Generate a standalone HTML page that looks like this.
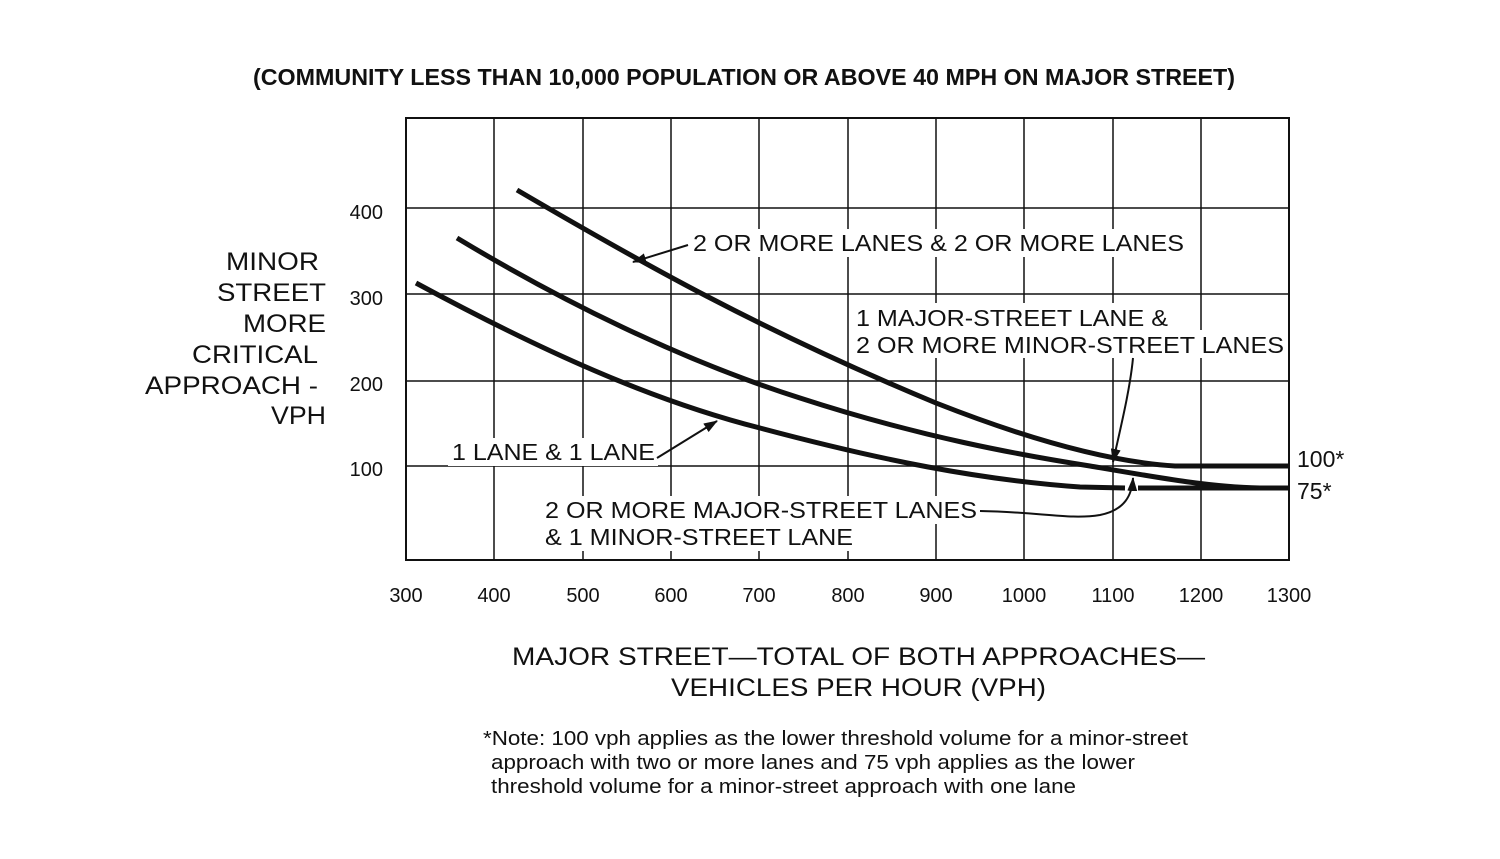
<!DOCTYPE html>
<html><head><style>
body{margin:0;background:#fff;}
svg text{font-family:"Liberation Sans",Arial,sans-serif;fill:#111;}
</style></head><body>
<svg width="1500" height="854" viewBox="0 0 1500 854" xmlns="http://www.w3.org/2000/svg">
<defs>
<marker id="ah2" markerWidth="14" markerHeight="10" refX="13" refY="5" orient="auto" markerUnits="userSpaceOnUse">
<path d="M0,0 L14,5 L0,10 Z" fill="#111"/></marker>
</defs>
<text x="253" y="85" font-size="23" font-weight="bold" textLength="982" lengthAdjust="spacingAndGlyphs">(COMMUNITY LESS THAN 10,000 POPULATION OR ABOVE 40 MPH ON MAJOR STREET)</text>
<g stroke="#111" stroke-width="1.5" fill="none">
<rect x="406" y="118" width="883" height="442" stroke-width="2"/>
<line x1="494" y1="118" x2="494" y2="560"/><line x1="583" y1="118" x2="583" y2="560"/>
<line x1="671" y1="118" x2="671" y2="560"/><line x1="759" y1="118" x2="759" y2="560"/>
<line x1="848" y1="118" x2="848" y2="560"/><line x1="936" y1="118" x2="936" y2="560"/>
<line x1="1024" y1="118" x2="1024" y2="560"/><line x1="1113" y1="118" x2="1113" y2="560"/>
<line x1="1201" y1="118" x2="1201" y2="560"/>
<line x1="406" y1="208" x2="1289" y2="208"/><line x1="406" y1="294" x2="1289" y2="294"/>
<line x1="406" y1="381" x2="1289" y2="381"/><line x1="406" y1="466" x2="1289" y2="466"/>
</g>
<g stroke="#111" stroke-width="5" fill="none" stroke-linecap="butt">
<path d="M517,190 C640,262 760,330 936,403 C1030,440 1110,462 1175,466 L1289,466"/>
<path d="M457,238 C560,300 680,360 800,398 C920,437 1020,455 1090,466 C1160,478 1210,487 1260,488 L1289,488"/>
<path d="M416,283 C540,350 650,400 760,428 C880,460 980,480 1080,487 L1125,488"/>
<path d="M1138,488 L1289,488"/>
</g>
<g fill="#fff">
<rect x="689" y="229" width="499" height="28"/>
<rect x="852" y="303" width="320" height="28"/>
<rect x="852" y="330" width="436" height="28"/>
<rect x="448" y="438" width="210" height="28"/>
<rect x="541" y="496" width="440" height="28"/>
<rect x="541" y="523" width="316" height="28"/>
</g>
<g stroke="#111" stroke-width="2" fill="none">
<path d="M688,245 L633,262" marker-end="url(#ah2)"/>
<path d="M1133,358 C1130,390 1120,430 1113,462" marker-end="url(#ah2)"/>
<path d="M657,458 L717,421" marker-end="url(#ah2)"/>
<path d="M980,511 C1040,512 1070,520 1100,515 C1125,510 1132,495 1133,478" marker-end="url(#ah2)"/>
</g>
<g font-size="23">
<text x="693" y="251" textLength="491" lengthAdjust="spacingAndGlyphs">2 OR MORE LANES &amp; 2 OR MORE LANES</text>
<text x="856" y="326" textLength="312" lengthAdjust="spacingAndGlyphs">1 MAJOR-STREET LANE &amp;</text>
<text x="856" y="353" textLength="428" lengthAdjust="spacingAndGlyphs">2 OR MORE MINOR-STREET LANES</text>
<text x="452" y="460" textLength="203" lengthAdjust="spacingAndGlyphs">1 LANE &amp; 1 LANE</text>
<text x="545" y="518" textLength="432" lengthAdjust="spacingAndGlyphs">2 OR MORE MAJOR-STREET LANES</text>
<text x="545" y="545" textLength="308" lengthAdjust="spacingAndGlyphs">&amp; 1 MINOR-STREET LANE</text>
<text x="1297" y="467">100*</text>
<text x="1297" y="499">75*</text>
</g>
<g font-size="20" text-anchor="end">
<text x="383" y="219">400</text><text x="383" y="305">300</text>
<text x="383" y="391">200</text><text x="383" y="476">100</text>
</g>
<g font-size="20" text-anchor="middle">
<text x="406" y="602">300</text><text x="494" y="602">400</text><text x="583" y="602">500</text>
<text x="671" y="602">600</text><text x="759" y="602">700</text><text x="848" y="602">800</text>
<text x="936" y="602">900</text><text x="1024" y="602">1000</text><text x="1113" y="602">1100</text>
<text x="1201" y="602">1200</text><text x="1289" y="602">1300</text>
</g>
<g font-size="25">
<text x="226" y="270" textLength="93" lengthAdjust="spacingAndGlyphs">MINOR</text>
<text x="217" y="301" textLength="109" lengthAdjust="spacingAndGlyphs">STREET</text>
<text x="243" y="332" textLength="83" lengthAdjust="spacingAndGlyphs">MORE</text>
<text x="192" y="363" textLength="126" lengthAdjust="spacingAndGlyphs">CRITICAL</text>
<text x="145" y="394" textLength="173" lengthAdjust="spacingAndGlyphs">APPROACH -</text>
<text x="271" y="424" textLength="55" lengthAdjust="spacingAndGlyphs">VPH</text>
</g>
<g font-size="25">
<text x="512" y="665" textLength="693" lengthAdjust="spacingAndGlyphs">MAJOR STREET—TOTAL OF BOTH APPROACHES—</text>
<text x="671" y="696" textLength="375" lengthAdjust="spacingAndGlyphs">VEHICLES PER HOUR (VPH)</text>
</g>
<g font-size="20">
<text x="483" y="745" textLength="705" lengthAdjust="spacingAndGlyphs">*Note: 100 vph applies as the lower threshold volume for a minor-street</text>
<text x="491" y="769" textLength="644" lengthAdjust="spacingAndGlyphs">approach with two or more lanes and 75 vph applies as the lower</text>
<text x="491" y="793" textLength="585" lengthAdjust="spacingAndGlyphs">threshold volume for a minor-street approach with one lane</text>
</g>
</svg>
</body></html>
